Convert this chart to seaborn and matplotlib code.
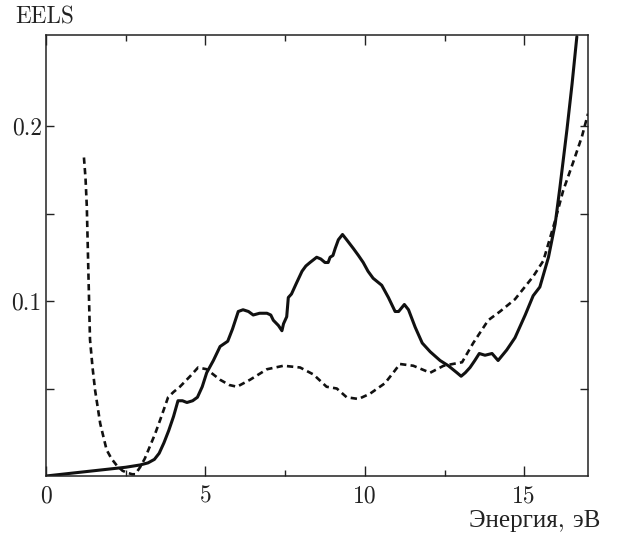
import numpy as np
import pandas as pd
import matplotlib
matplotlib.use("Agg")
import matplotlib.pyplot as plt
from matplotlib.ticker import MultipleLocator, FixedLocator
import seaborn as sns

# Solid curve: EELS spectrum (energy in eV, intensity)
solid_e = [0.0, 0.5, 1.0, 1.5, 2.0, 2.5, 2.95, 3.2, 3.4, 3.55, 3.7, 3.85, 4.0, 4.14, 4.28,
           4.42, 4.6, 4.75, 4.9, 5.04, 5.25, 5.46, 5.7, 5.85, 6.03, 6.18, 6.35, 6.5, 6.7,
           6.93, 7.05, 7.13, 7.29, 7.4, 7.45, 7.55, 7.6, 7.7, 7.85, 8.03, 8.15, 8.28, 8.49,
           8.62, 8.75, 8.85, 8.91, 9.0, 9.07, 9.17, 9.3, 9.43, 9.64, 9.8, 9.95, 10.1, 10.26,
           10.53, 10.74, 10.95, 11.06, 11.24, 11.37, 11.58, 11.8, 12.05, 12.36, 12.62, 12.89,
           13.02, 13.15, 13.3, 13.45, 13.59, 13.77, 13.99, 14.18, 14.45, 14.71, 15.03, 15.28,
           15.49, 15.76, 15.97, 16.12, 16.34, 16.5, 16.65]
solid_i = [0.000, 0.001, 0.002, 0.003, 0.004, 0.005, 0.0063, 0.0075, 0.0095, 0.013, 0.019,
           0.026, 0.034, 0.043, 0.043, 0.042, 0.043, 0.045, 0.051, 0.059, 0.066, 0.074, 0.077,
           0.084, 0.094, 0.095, 0.094, 0.092, 0.093, 0.093, 0.092, 0.089, 0.086, 0.083, 0.087,
           0.091, 0.102, 0.104, 0.110, 0.117, 0.120, 0.122, 0.125, 0.124, 0.122, 0.122, 0.125,
           0.126, 0.130, 0.135, 0.138, 0.135, 0.130, 0.126, 0.122, 0.117, 0.113, 0.109, 0.102,
           0.094, 0.094, 0.098, 0.095, 0.085, 0.076, 0.071, 0.066, 0.063, 0.059, 0.057, 0.059,
           0.062, 0.066, 0.070, 0.069, 0.070, 0.066, 0.072, 0.079, 0.092, 0.103, 0.108, 0.125,
           0.144, 0.165, 0.198, 0.224, 0.251]

# Dashed curve: second spectrum
dashed_e = [1.19, 1.24, 1.28, 1.33, 1.38, 1.46, 1.54, 1.7, 1.9, 2.05, 2.22, 2.4, 2.53, 2.7,
            2.8, 2.95, 3.1, 3.26, 3.42, 3.58, 3.83, 4.0, 4.2, 4.52, 4.77, 5.04, 5.25, 5.46,
            5.75, 5.99, 6.4, 6.93, 7.45, 7.97, 8.39, 8.8, 9.12, 9.43, 9.8, 10.16, 10.63,
            10.89, 11.1, 11.52, 12.05, 12.47, 13.05, 13.4, 13.87, 14.24, 14.71, 15.28, 15.6,
            15.97, 16.22, 16.53, 16.81, 17.0]
dashed_i = [0.182, 0.170, 0.154, 0.116, 0.078, 0.062, 0.049, 0.030, 0.015, 0.010, 0.006,
            0.003, 0.002, 0.001, 0.001, 0.005, 0.010, 0.017, 0.024, 0.032, 0.045, 0.048,
            0.051, 0.057, 0.062, 0.061, 0.058, 0.055, 0.052, 0.051, 0.055, 0.061, 0.063,
            0.062, 0.058, 0.051, 0.050, 0.045, 0.044, 0.047, 0.053, 0.059, 0.064, 0.063,
            0.059, 0.063, 0.065, 0.076, 0.089, 0.094, 0.101, 0.114, 0.123, 0.146, 0.163,
            0.179, 0.194, 0.207]

x_ticks = [0, 5, 10, 15]
x_tick_labels = ["0", "5", "10", "15"]
y_ticks = [0.1, 0.2]
y_tick_labels = ["0.1", "0.2"]

sns.set_style("white")
plt.rcParams["font.family"] = ["cmr10", "Liberation Serif"]
plt.rcParams["axes.unicode_minus"] = False

fig = plt.figure(figsize=(6.17, 5.36), dpi=100)
ax = fig.add_axes([46 / 617, 1 - 476 / 536, (588 - 46) / 617, (476 - 35) / 536])

solid_df = pd.DataFrame({"e": solid_e, "i": solid_i})
dashed_df = pd.DataFrame({"e": dashed_e, "i": dashed_i})

sns.lineplot(data=solid_df, x="e", y="i", sort=False, ax=ax, color="#111111",
             linewidth=2.2, estimator=None)
sns.lineplot(data=dashed_df, x="e", y="i", sort=False, ax=ax, color="#111111",
             linewidth=1.9, estimator=None, linestyle=(0, (2.4, 1.6)))

ax.set_xlim(0, 17)
ax.set_ylim(0, 0.252)
ax.set_xlabel("")
ax.set_ylabel("")

ax.xaxis.set_major_locator(FixedLocator(x_ticks))
ax.set_xticklabels(x_tick_labels)
ax.xaxis.set_minor_locator(MultipleLocator(2.5))
ax.yaxis.set_major_locator(FixedLocator(y_ticks))
ax.set_yticklabels(y_tick_labels)
ax.yaxis.set_minor_locator(FixedLocator([0.05, 0.15]))

for s in ax.spines.values():
    s.set_visible(True)
    s.set_color("#222222")
    s.set_linewidth(1.1)

ax.tick_params(which="both", direction="in", top=True, right=True, bottom=True, left=True,
               colors="#222222", labelcolor="#222222", labelsize=17)
ax.tick_params(axis="x", which="major", length=7, width=1.0, pad=7)
ax.tick_params(axis="x", which="minor", length=4, width=1.0)
ax.tick_params(axis="y", which="major", length=6, width=1.0, pad=3)
ax.tick_params(axis="y", which="minor", length=6, width=1.0)

fig.text(15 / 617, 1 - 17 / 536, "EELS", fontsize=16.7, va="center", ha="left", color="#222222")
fig.text(600 / 617, 1 - 521 / 536, "Энергия, эВ", fontsize=18, va="center", ha="right",
         color="#222222")

fig.savefig("out.png", dpi=100)
